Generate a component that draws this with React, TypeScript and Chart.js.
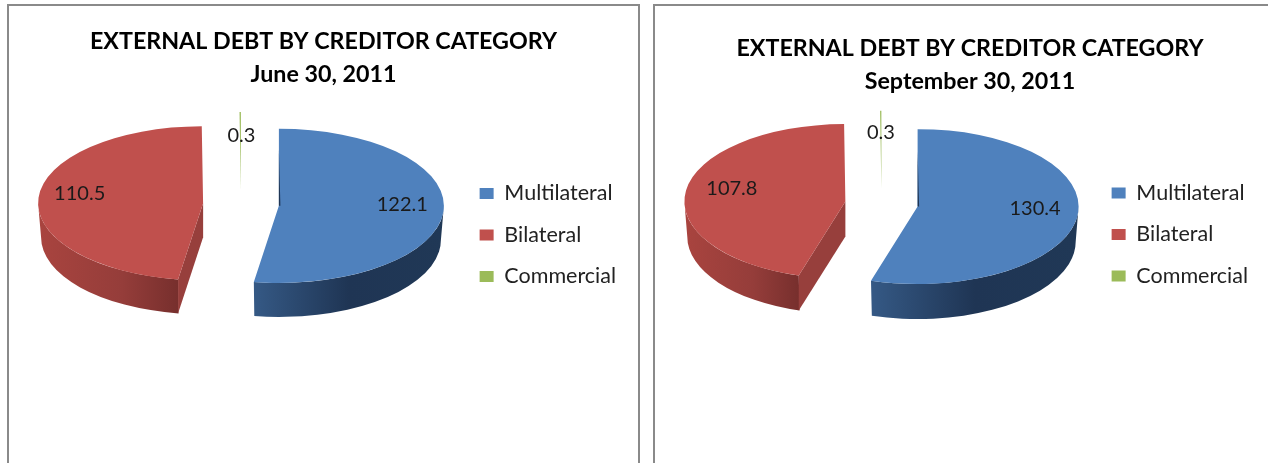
import React, { useEffect, useRef } from "react";
import Chart from "chart.js/auto";

// Creditor categories and outstanding external debt per quarter.
const categories = ["Multilateral", "Bilateral", "Commercial"];
const juneValues = [122.1, 110.5, 0.3];
const septemberValues = [130.4, 107.8, 0.3];
const reportTitle = "EXTERNAL DEBT BY CREDITOR CATEGORY";
const juneDate = "June 30, 2011";
const septemberDate = "September 30, 2011";

// Slice and side-wall colours.
const sliceColors = ["#4F81BD", "#C0504D", "#9BBB59"];
const wallStops: [number, string][][] = [
  [[0, "#355985"], [0.5, "#1f3554"], [1, "#203856"]],
  [[0, "#a9443f"], [0.6, "#953d3a"], [1, "#772f2d"]],
  [[0, "#9BBB59"], [1, "#9BBB59"]],
];
const cutFaceColors = ["#1f3554", "#973f3c", "#9BBB59"];

const FONT = "Lato, 'Open Sans', sans-serif";

type PanelSetup = {
  values: number[];
  date: string;
  left: number;
  top: number;
  width: number;
  height: number;
  titleTop: number;
  titleLine: number;
  padding: { left: number; right: number };
  center: [number, number];
  radius: number;
  squash: number;
  depth: number;
  explode: number[];
  labelShift: [number, number][];
};

const panels: PanelSetup[] = [
  {
    values: juneValues,
    date: juneDate,
    left: 9,
    top: 7,
    width: 629,
    height: 456,
    titleTop: 18,
    titleLine: 1.41,
    padding: { left: 12, right: 12 },
    center: [232, 197.5],
    radius: 165,
    squash: 0.467,
    depth: 34,
    explode: [38, 38, 33],
    labelShift: [[0, -6], [0, -6], [1, 4]],
  },
  {
    values: septemberValues,
    date: septemberDate,
    left: 655,
    top: 6,
    width: 603,
    height: 457,
    titleTop: 26,
    titleLine: 1.43,
    padding: { left: 27, right: 0 },
    center: [226.5, 198],
    radius: 161,
    squash: 0.481,
    depth: 35,
    explode: [36.5, 36.5, 33],
    labelShift: [[-2, -7], [6, -5], [0, 3]],
  },
];

// Draws each arc as a squashed, pulled-apart disc with an extruded rim.
function solidPiePlugin(p: PanelSetup) {
  return {
    id: "solidPie",
    beforeDatasetsDraw(chart: any) {
      const ctx: CanvasRenderingContext2D = chart.ctx;
      const arcs = chart.getDatasetMeta(0).data;
      arcs.forEach((arc: any, i: number) => {
        const { startAngle: a, endAngle: b, outerRadius: rx, x, y } = arc;
        const ry = rx * p.squash;
        const mid = (a + b) / 2;
        const cx = p.center[0] + Math.cos(mid) * p.explode[i];
        const cy = p.center[1] + Math.sin(mid) * p.explode[i] * p.squash;

        // Outer rim: only the part facing the viewer.
        const from = Math.max(a, 0);
        const to = Math.min(b, Math.PI);
        if (from < to) {
          const xs = [from, to].map((t) => cx + rx * Math.cos(t));
          const grad = ctx.createLinearGradient(Math.min(...xs), 0, Math.max(...xs), 0);
          wallStops[i].forEach(([s, c]) => grad.addColorStop(s, c));
          ctx.beginPath();
          ctx.ellipse(cx, cy, rx, ry, 0, from, to);
          ctx.ellipse(cx, cy + p.depth, rx * 0.982, ry, 0, to, from, true);
          ctx.closePath();
          ctx.fillStyle = grad;
          ctx.fill();
        }

        // Cut face along the leading edge, when it turns toward the viewer.
        if (-Math.cos(a) > 0.01 && b - a > 0.1) {
          const ex = cx + rx * Math.cos(a);
          const ey = cy + ry * Math.sin(a);
          ctx.beginPath();
          ctx.moveTo(cx, cy);
          ctx.lineTo(ex, ey);
          ctx.lineTo(ex, ey + p.depth);
          ctx.lineTo(cx, cy + p.depth);
          ctx.closePath();
          ctx.fillStyle = cutFaceColors[i];
          ctx.fill();
        }

        // Top face, painted by the arc element itself.
        ctx.save();
        ctx.translate(cx, cy);
        ctx.scale(1, p.squash);
        ctx.translate(-x, -y);
        arc.draw(ctx);
        ctx.restore();

        // Thin dark sliver where the vertical back edge meets the hub.
        if (Math.abs(a + Math.PI / 2) < 0.01) {
          ctx.beginPath();
          ctx.moveTo(cx, cy - ry * 0.72);
          ctx.lineTo(cx, cy);
          ctx.lineTo(cx + 1.5, cy);
          ctx.closePath();
          ctx.fillStyle = cutFaceColors[0];
          ctx.fill();
        }
      });

      // Value labels.
      ctx.save();
      ctx.font = `20px ${FONT}`;
      ctx.fillStyle = "#1a1a1a";
      ctx.textAlign = "center";
      ctx.textBaseline = "middle";
      arcs.forEach((arc: any, i: number) => {
        const mid = (arc.startAngle + arc.endAngle) / 2;
        const rx = arc.outerRadius;
        const cx = p.center[0] + Math.cos(mid) * (p.explode[i] + 0.75 * rx);
        const cy = p.center[1] + Math.sin(mid) * (p.explode[i] + 0.75 * rx) * p.squash;
        ctx.fillText(p.values[i].toFixed(1), cx + p.labelShift[i][0], cy + p.labelShift[i][1]);
      });
      ctx.restore();
      return false;
    },
  };
}

function Panel({ setup }: { setup: PanelSetup }) {
  const ref = useRef<HTMLCanvasElement>(null);
  useEffect(() => {
    const chart = new Chart(ref.current!, {
      type: "pie",
      data: {
        labels: categories,
        datasets: [
          {
            data: setup.values,
            backgroundColor: sliceColors,
            borderWidth: 0,
            radius: setup.radius,
          } as any,
        ],
      },
      options: {
        responsive: false,
        animation: false,
        events: [],
        layout: { padding: setup.padding },
        plugins: {
          title: {
            display: true,
            text: [reportTitle, setup.date],
            color: "#000",
            font: { family: FONT, size: 23.25, weight: "bold", lineHeight: setup.titleLine },
            padding: { top: setup.titleTop, bottom: 0 },
          },
          legend: {
            position: "right",
            labels: {
              boxWidth: 14,
              boxHeight: 11,
              padding: 20,
              color: "#222",
              font: { family: FONT, size: 21.5 },
            },
          },
          tooltip: { enabled: false },
        },
      },
      plugins: [solidPiePlugin(setup) as any],
    });
    return () => chart.destroy();
  }, [setup]);
  return (
    <canvas
      ref={ref}
      width={setup.width}
      height={setup.height}
      style={{ position: "absolute", left: setup.left, top: setup.top, display: "block" }}
    />
  );
}

export default function App() {
  const frame: React.CSSProperties = {
    position: "absolute",
    boxSizing: "border-box",
    border: "2px solid #8a8a8a",
    background: "#fff",
  };
  return (
    <div style={{ position: "fixed", left: 0, top: 0, width: 1268, height: 463, overflow: "hidden", background: "#fff" }}>
      <div style={{ ...frame, left: 7, top: 4, width: 633, height: 520 }} />
      <div style={{ ...frame, left: 653, top: 4, width: 640, height: 520 }} />
      {panels.map((p) => (
        <Panel key={p.date} setup={p} />
      ))}
    </div>
  );
}
